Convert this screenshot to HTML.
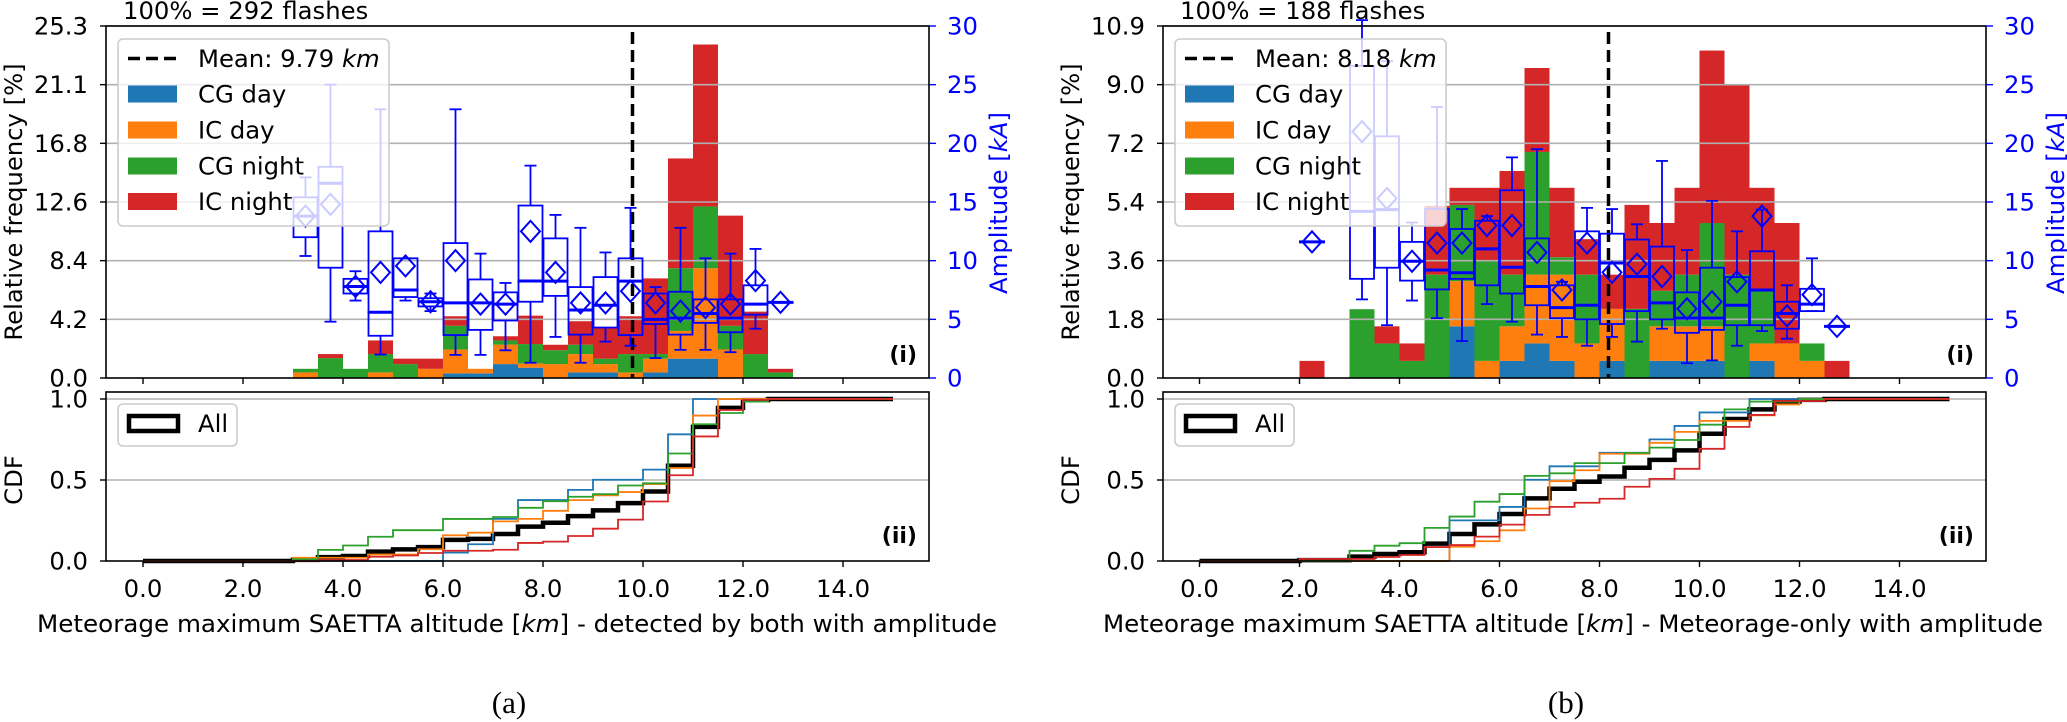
<!DOCTYPE html>
<html><head><meta charset="utf-8"><style>
html,body{margin:0;padding:0;background:#fff;}
svg{display:block;}
text{font-family:"DejaVu Sans","Liberation Sans",sans-serif;}
</style></head><body>
<svg id="s" width="2067" height="722" xmlns="http://www.w3.org/2000/svg"></svg>
<script>
const S=document.getElementById('s');let out='';
const C=['#1f77b4','#ff7f0e','#2ca02c','#d62728'];
function add(s){out+=s;}
const TOP=26,BOT=378,CT=392,CB=561,FS=24.3;
function panel(P){
 const L=P.L,R=L+823,x0=P.x0;
 const X=k=>x0+k*50;
 const Yp=p=>BOT-p*352/P.ymax;
 const Ya=a=>BOT-Math.min(a,30.5)*352/30;
 for(const [k,t] of P.bars){
  let prev=0;
  for(let j=0;j<4;j++){ if(t[j]>prev){add(`<rect x="${X(k)}" y="${Yp(t[j])}" width="25" height="${Yp(prev)-Yp(t[j])}" fill="${C[j]}"/>`);prev=t[j];} }
 }
 for(let i=1;i<=6;i++){const y=BOT-i*352/6;add(`<line x1="${L}" x2="${R}" y1="${y}" y2="${y}" stroke="#b0b0b0" stroke-width="1.6"/>`);}
 add(`<line x1="${X(P.mean)}" x2="${X(P.mean)}" y1="${TOP+6}" y2="${BOT}" stroke="#000" stroke-width="3.5" stroke-dasharray="12,6"/>`);
 for(const b of P.box){
  const [k,lo,q1,md,q3,hi,mn]=b;const cx=X(k)+12.5,x1=X(k)+0.5,w=24;
  let s=`<g stroke="#0000ff" fill="none" stroke-width="1.8">`;
  s+=`<line x1="${cx}" x2="${cx}" y1="${Ya(hi)}" y2="${Ya(q3)}"/><line x1="${cx}" x2="${cx}" y1="${Ya(q1)}" y2="${Ya(lo)}"/>`;
  s+=`<line x1="${cx-6}" x2="${cx+6}" y1="${Ya(hi)}" y2="${Ya(hi)}"/><line x1="${cx-6}" x2="${cx+6}" y1="${Ya(lo)}" y2="${Ya(lo)}"/>`;
  if(q3>q1) s+=`<rect x="${x1}" y="${Ya(q3)}" width="${w}" height="${Ya(q1)-Ya(q3)}"/>`;
  s+=`<line x1="${x1-1}" x2="${x1+w+1}" y1="${Ya(md)}" y2="${Ya(md)}" stroke-width="3"/>`;
  const my=Ya(mn);
  s+=`<path d="M${cx-9.5} ${my} L${cx} ${my-10.5} L${cx+9.5} ${my} L${cx} ${my+10.5} Z" stroke-width="2"/>`;
  s+=`</g>`;add(s);
 }
 add(`<rect x="${L}" y="${TOP}" width="${R-L}" height="${BOT-TOP}" fill="none" stroke="#000" stroke-width="1.6"/>`);
 for(let i=0;i<=6;i++){const y=BOT-i*352/6;const v=P.lbl[i];
  add(`<line x1="${L-6}" x2="${L}" y1="${y}" y2="${y}" stroke="#000" stroke-width="1.4"/>`);
  add(`<text x="${L-18}" y="${y+8.5}" font-size="${FS}" text-anchor="end">${v}</text>`);
  add(`<line x1="${R}" x2="${R+7}" y1="${y}" y2="${y}" stroke="#0000ff" stroke-width="1.4"/>`);
  add(`<text x="${R+18}" y="${y+8.5}" font-size="${FS}" fill="#0000ff">${i*5}</text>`);
 }
 for(let k=0;k<=14;k+=2){add(`<line x1="${X(k)}" x2="${X(k)}" y1="${BOT}" y2="${BOT+6}" stroke="#000" stroke-width="1.4"/>`);}
 add(`<text x="${L+17}" y="19" font-size="${FS}">100% = ${P.n} flashes</text>`);
 add(`<text transform="translate(${L-84},202) rotate(-90)" font-size="${FS}" text-anchor="middle">Relative frequency [%]</text>`);
 add(`<text transform="translate(${R+78},203) rotate(-90)" font-size="${FS}" text-anchor="middle" fill="#0000ff">Amplitude [<tspan font-style="italic">kA</tspan>]</text>`);
 add(`<text x="${R-12}" y="362" font-size="22" font-weight="bold" text-anchor="end">(i)</text>`);
 add(`<rect x="${L+12}" y="39" width="271" height="187" rx="5" fill="#fff" fill-opacity="0.8" stroke="#ccc" stroke-width="1.6"/>`);
 add(`<line x1="${L+22}" x2="${L+72}" y1="58.5" y2="58.5" stroke="#000" stroke-width="3.5" stroke-dasharray="12,6"/>`);
 add(`<text x="${L+92}" y="67" font-size="${FS}">Mean: ${P.mean.toFixed(2)} <tspan font-style="italic">km</tspan></text>`);
 const names=['CG day','IC day','CG night','IC night'];
 [94,130,166,201.5].forEach((y,j)=>{add(`<rect x="${L+22}" y="${y-8.5}" width="49" height="17" fill="${C[j]}"/>`);add(`<text x="${L+92}" y="${y+8.5}" font-size="${FS}">${names[j]}</text>`);});
 const Yc=v=>CB-v*162;
 for(const v of [0.5,1.0]) add(`<line x1="${L}" x2="${R}" y1="${Yc(v)}" y2="${Yc(v)}" stroke="#b0b0b0" stroke-width="1.6"/>`);
 const cnt=[[],[],[],[]];for(let j=0;j<4;j++)for(let i=0;i<30;i++)cnt[j][i]=0;
 for(const [k,t] of P.bars){const i=Math.round(k*2);let prev=0;for(let j=0;j<4;j++){const v=Math.max(0,t[j]-prev);cnt[j][i]=v;if(t[j]>prev)prev=t[j];}}
 function step(arr,col,w){let tot=arr.reduce((a,b)=>a+b,0);let c=0;let d=`M${X(0)} ${Yc(0)}`;
  for(let i=0;i<30;i++){c+=arr[i];const v=c/tot;d+=` L${X(i*0.5)} ${Yc(v)} L${X(i*0.5+0.5)} ${Yc(v)}`;}
  add(`<path d="${d}" fill="none" stroke="${col}" stroke-width="${w}"/>`);}
 const all=[];for(let i=0;i<30;i++)all[i]=cnt[0][i]+cnt[1][i]+cnt[2][i]+cnt[3][i];
 step(all,'#000',4.5);
 for(let j=0;j<4;j++)step(cnt[j],C[j],1.8);
 add(`<rect x="${L}" y="${CT}" width="${R-L}" height="${CB-CT}" fill="none" stroke="#000" stroke-width="1.6"/>`);
 [[0,'0.0'],[0.5,'0.5'],[1,'1.0']].forEach(([v,t])=>{add(`<line x1="${L-6}" x2="${L}" y1="${Yc(v)}" y2="${Yc(v)}" stroke="#000" stroke-width="1.4"/>`);add(`<text x="${L-18}" y="${Yc(v)+8.5}" font-size="${FS}" text-anchor="end">${t}</text>`);});
 for(let k=0;k<=14;k+=2){add(`<line x1="${X(k)}" x2="${X(k)}" y1="${CB}" y2="${CB+6}" stroke="#000" stroke-width="1.4"/>`);add(`<text x="${X(k)}" y="597" font-size="${FS}" text-anchor="middle">${k.toFixed(1)}</text>`);}
 add(`<text transform="translate(${L-84},480) rotate(-90)" font-size="${FS}" text-anchor="middle">CDF</text>`);
 add(`<text x="${R-12}" y="543" font-size="22" font-weight="bold" text-anchor="end">(ii)</text>`);
 add(`<rect x="${L+12}" y="404" width="119" height="42" rx="5" fill="#fff" fill-opacity="0.8" stroke="#ccc" stroke-width="1.6"/>`);
 add(`<rect x="${L+23}" y="416" width="49" height="15" fill="none" stroke="#000" stroke-width="4.5"/>`);
 add(`<text x="${L+92}" y="432" font-size="${FS}">All</text>`);
 add(`<text x="${P.xs}" y="632" font-size="${FS}" textLength="${P.xw}" lengthAdjust="spacingAndGlyphs">Meteorage maximum SAETTA altitude [<tspan font-style="italic">km</tspan>] - ${P.xl}</text>`);
 add(`<text x="${P.lab}" y="713" font-size="31" text-anchor="middle" style="font-family:'Liberation Serif',serif">${P.tag}</text>`);
}
panel({L:106,x0:143,ymax:25.3,n:292,mean:9.79,xs:37,xw:960,xl:'detected by both with amplitude',lab:509,tag:'(a)',
lbl:['0.0','4.2','8.4','12.6','16.8','21.1','25.3'],
bars:[[3.0,[0,0.4,0.66,0.66]],[3.5,[0,0,1.43,1.72]],[4.0,[0,0,0.66,0.66]],[4.5,[0,0.4,1.72,2.7]],[5.0,[0,0,1.0,1.39]],[5.5,[0,0.66,0.66,1.39]],[6.0,[0.33,2.05,3.75,4.44]],[6.5,[0.33,0.66,0.66,0.66]],[7.0,[1.0,2.4,2.7,3.0]],[7.5,[0.74,1.05,2.44,4.48]],[8.0,[0,1.0,2.0,2.39]],[8.5,[0.4,1.72,2.39,4.08]],[9.0,[0.4,1.0,1.39,3.58]],[9.5,[0,0.4,1.72,4.44]],[10.0,[0.4,1.39,1.72,7.16]],[10.5,[1.39,3.38,7.89,15.78]],[11.0,[1.39,7.89,12.33,23.97]],[11.5,[0,2.05,3.75,11.67]],[12.0,[0,0,1.72,4.77]],[12.5,[0,0,0.4,0.66]]],
box:[[3.0,10.4,12.0,13.8,15.4,17.1,13.8],[3.5,4.8,9.4,16.6,18.0,25.0,14.8],[4.0,6.6,7.2,7.8,8.45,9.1,7.8],[4.5,2.0,3.6,5.6,12.5,22.9,9.0],[5.0,6.6,6.9,7.5,10.2,10.2,9.55],[5.5,5.7,6.1,6.5,6.8,7.2,6.5],[6.0,1.97,3.66,6.4,11.5,22.9,10.0],[6.5,1.97,4.1,6.4,8.4,10.6,6.3],[7.0,2.36,4.9,6.3,7.3,8.1,6.3],[7.5,1.3,6.5,8.27,14.7,18.1,12.5],[8.0,3.5,7.0,8.26,11.9,13.9,9.0],[8.5,1.3,3.7,5.8,7.75,12.8,6.4],[9.0,3.1,4.3,6.2,8.6,10.7,6.4],[9.5,2.75,3.66,8.26,10.2,14.5,7.4],[10.0,1.7,4.6,5.0,7.2,7.75,6.4],[10.5,2.4,3.7,5.1,7.35,12.8,5.7],[11.0,2.4,4.7,5.5,6.7,10.2,6.0],[11.5,2.2,3.9,5.1,6.7,10.6,6.3],[12.0,4.2,5.4,6.3,7.9,11.0,8.3],[12.5,6.45,6.45,6.45,6.45,6.45,6.45]]});
panel({L:1163,x0:1199.5,ymax:10.9,n:188,mean:8.18,xs:1103,xw:940,xl:'Meteorage-only with amplitude',lab:1566,tag:'(b)',
lbl:['0.0','1.8','3.6','5.4','7.2','9.0','10.9'],
bars:[[2.0,[0,0,0,0.53]],[3.0,[0,0,2.13,2.13]],[3.5,[0,0,1.07,1.6]],[4.0,[0,0,0.53,1.07]],[4.5,[0,0,3.2,5.33]],[5.0,[1.6,3.0,5.36,5.89]],[5.5,[0,0.53,3.64,5.89]],[6.0,[0.53,1.6,3.2,6.41]],[6.5,[1.07,3.2,7.0,9.6]],[7.0,[0.53,3.2,3.74,5.89]],[7.5,[0,1.07,3.2,4.3]],[8.0,[0.53,2.14,2.14,3.2]],[8.5,[0,0,2.14,5.36]],[9.0,[0.53,1.6,2.7,4.8]],[9.5,[0.53,1.6,3.2,5.89]],[10.0,[0.53,1.6,4.8,10.14]],[10.5,[0,0,3.2,9.06]],[11.0,[0.53,1.07,2.7,5.89]],[11.5,[0,1.07,1.07,4.8]],[12.0,[0,0.53,1.07,1.07]],[12.5,[0,0,0,0.53]]],
box:[[2.0,11.6,11.6,11.6,11.6,11.6,11.6],[3.0,6.7,8.45,14.2,26.6,31,21.0],[3.5,4.5,9.4,14.35,20.6,27.0,15.3],[4.0,6.6,8.3,9.95,11.6,13.25,9.95],[4.5,5.1,7.55,9.2,14.4,23.1,11.5],[5.0,3.15,8.45,8.97,12.7,14.4,11.5],[5.5,6.3,7.9,11.0,13.4,13.8,13.0],[6.0,4.8,7.2,9.44,16.0,18.8,13.0],[6.5,3.7,6.2,7.8,11.9,19.5,10.7],[7.0,3.5,5.1,6.0,7.9,8.2,7.5],[7.5,2.75,5.0,6.2,12.5,14.5,11.5],[8.0,3.5,4.6,9.8,12.3,14.4,9.0],[8.5,3.1,5.7,8.65,11.8,13.1,9.7],[9.0,4.2,5.0,6.4,11.2,18.5,8.65],[9.5,1.26,3.85,5.1,7.3,10.9,5.9],[10.0,1.5,4.1,5.1,9.4,15.1,6.5],[10.5,2.75,4.5,6.2,8.6,12.5,8.2],[11.0,4.0,4.5,7.5,10.8,14.35,13.8],[11.5,3.35,4.2,5.5,6.5,7.9,5.3],[12.0,5.7,5.7,6.3,7.6,10.2,7.1],[12.5,4.4,4.4,4.4,4.4,4.4,4.4]]});
S.innerHTML=out;
</script>
</body></html>
